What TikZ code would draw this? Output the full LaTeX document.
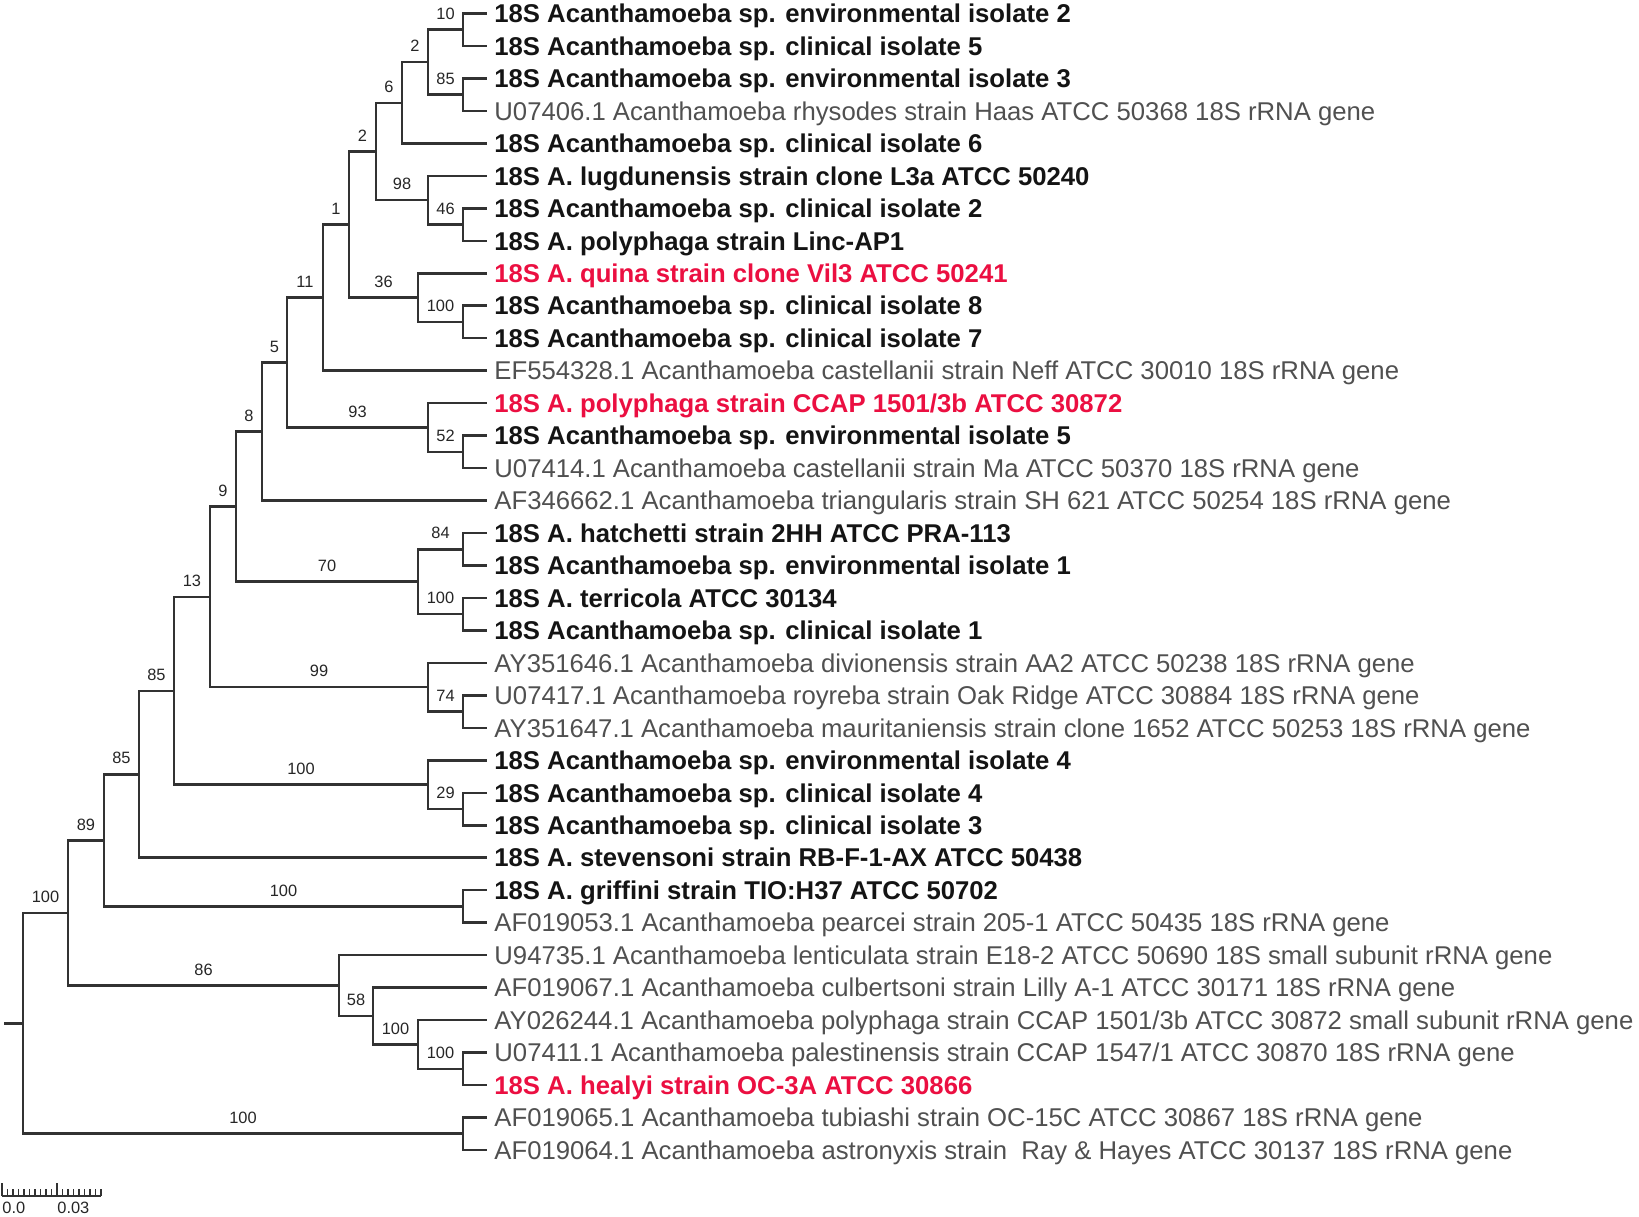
\documentclass[tikz,border=0pt]{standalone}
\usepackage{fontspec}
\setmainfont{Liberation Sans}
\definecolor{treegray}{RGB}{50,50,50}
\definecolor{seqgray}{RGB}{80,80,80}
\definecolor{quinared}{RGB}{235,15,65}
\begin{document}
\begin{tikzpicture}[
    x=0.5pt,
    y=-0.5pt,
    branch/.style={
        draw=treegray,
        line width=1.25pt
    },
    leaf/.style={
        anchor=west,
        inner xsep=3.5pt,
        inner ysep=0pt,
        text height=9.2pt,
        text depth=0pt,
        font=\fontsize{12.85}{15}\selectfont
    },
    isolate/.style={
        leaf,
        font=\fontsize{12.85}{15}\selectfont\bfseries,
        text=black!92
    },
    genbank/.style={
        leaf,
        text=seqgray
    },
    highlight/.style={
        leaf,
        font=\fontsize{12.85}{15}\selectfont\bfseries,
        text=quinared
    },
    boot/.style={
        pos=0.75,
        above=4.5pt,
        inner sep=0pt,
        font=\fontsize{8.2}{9.6}\selectfont,
        text=black!85
    }
]
\useasboundingbox (0,0) rectangle (1639,1216);

% leaves
\node[isolate] (env2) at (487,13.5) {18S Acanthamoeba sp. environmental isolate 2};
\node[isolate] (cli5) at (487,46.0) {18S Acanthamoeba sp. clinical isolate 5};
\node[isolate] (env3) at (487,78.4) {18S Acanthamoeba sp. environmental isolate 3};
\node[genbank] (rhy) at (487,110.9) {U07406.1 Acanthamoeba rhysodes strain Haas ATCC 50368 18S rRNA gene};
\node[isolate] (cli6) at (487,143.4) {18S Acanthamoeba sp. clinical isolate 6};
\node[isolate] (lug) at (487,175.9) {18S A. lugdunensis strain clone L3a ATCC 50240};
\node[isolate] (cli2) at (487,208.3) {18S Acanthamoeba sp. clinical isolate 2};
\node[isolate] (lin) at (487,240.8) {18S A. polyphaga strain Linc-AP1};
\node[highlight] (qui) at (487,273.3) {18S A. quina strain clone Vil3 ATCC 50241};
\node[isolate] (cli8) at (487,305.7) {18S Acanthamoeba sp. clinical isolate 8};
\node[isolate] (cli7) at (487,338.2) {18S Acanthamoeba sp. clinical isolate 7};
\node[genbank] (cas) at (487,370.7) {EF554328.1 Acanthamoeba castellanii strain Neff ATCC 30010 18S rRNA gene};
\node[highlight] (ccap) at (487,403.1) {18S A. polyphaga strain CCAP 1501/3b ATCC 30872};
\node[isolate] (env5) at (487,435.6) {18S Acanthamoeba sp. environmental isolate 5};
\node[genbank] (cma) at (487,468.1) {U07414.1 Acanthamoeba castellanii strain Ma ATCC 50370 18S rRNA gene};
\node[genbank] (tri) at (487,500.6) {AF346662.1 Acanthamoeba triangularis strain SH 621 ATCC 50254 18S rRNA gene};
\node[isolate] (hat) at (487,533.0) {18S A. hatchetti strain 2HH ATCC PRA-113};
\node[isolate] (env1) at (487,565.5) {18S Acanthamoeba sp. environmental isolate 1};
\node[isolate] (ter) at (487,598.0) {18S A. terricola ATCC 30134};
\node[isolate] (cli1) at (487,630.4) {18S Acanthamoeba sp. clinical isolate 1};
\node[genbank] (div) at (487,662.9) {AY351646.1 Acanthamoeba divionensis strain AA2 ATCC 50238 18S rRNA gene};
\node[genbank] (roy) at (487,695.4) {U07417.1 Acanthamoeba royreba strain Oak Ridge ATCC 30884 18S rRNA gene};
\node[genbank] (mau) at (487,727.8) {AY351647.1 Acanthamoeba mauritaniensis strain clone 1652 ATCC 50253 18S rRNA gene};
\node[isolate] (env4) at (487,760.3) {18S Acanthamoeba sp. environmental isolate 4};
\node[isolate] (cli4) at (487,792.8) {18S Acanthamoeba sp. clinical isolate 4};
\node[isolate] (cli3) at (487,825.3) {18S Acanthamoeba sp. clinical isolate 3};
\node[isolate] (ste) at (487,857.7) {18S A. stevensoni strain RB-F-1-AX ATCC 50438};
\node[isolate] (gri) at (487,890.2) {18S A. griffini strain TIO:H37 ATCC 50702};
\node[genbank] (pea) at (487,922.7) {AF019053.1 Acanthamoeba pearcei strain 205-1 ATCC 50435 18S rRNA gene};
\node[genbank] (len) at (487,955.1) {U94735.1 Acanthamoeba lenticulata strain E18-2 ATCC 50690 18S small subunit rRNA gene};
\node[genbank] (cul) at (487,987.6) {AF019067.1 Acanthamoeba culbertsoni strain Lilly A-1 ATCC 30171 18S rRNA gene};
\node[genbank] (pol) at (487,1020.1) {AY026244.1 Acanthamoeba polyphaga strain CCAP 1501/3b ATCC 30872 small subunit rRNA gene};
\node[genbank] (pal) at (487,1052.5) {U07411.1 Acanthamoeba palestinensis strain CCAP 1547/1 ATCC 30870 18S rRNA gene};
\node[highlight] (hea) at (487,1085.0) {18S A. healyi strain OC-3A ATCC 30866};
\node[genbank] (tub) at (487,1117.5) {AF019065.1 Acanthamoeba tubiashi strain OC-15C ATCC 30867 18S rRNA gene};
\node[genbank] (ast) at (487,1150.0) {AF019064.1 Acanthamoeba astronyxis strain\ \ Ray \& Hayes ATCC 30137 18S rRNA gene};

% internal nodes
\coordinate (n1) at (463,29.7);
\coordinate (n2) at (463,94.7);
\coordinate (n3) at (428,62.2);
\coordinate (n4) at (402,102.8);
\coordinate (n5) at (463,224.6);
\coordinate (n6) at (428,200.2);
\coordinate (n7) at (376,151.5);
\coordinate (n8) at (463,322.0);
\coordinate (n9) at (418,297.6);
\coordinate (n10) at (349,224.6);
\coordinate (n11) at (323,297.6);
\coordinate (n12) at (463,451.8);
\coordinate (n13) at (428,427.5);
\coordinate (n14) at (287,362.5);
\coordinate (n15) at (262,431.6);
\coordinate (n16) at (463,549.3);
\coordinate (n17) at (463,614.2);
\coordinate (n18) at (418,581.7);
\coordinate (n19) at (236,506.6);
\coordinate (n20) at (463,711.6);
\coordinate (n21) at (428,687.2);
\coordinate (n22) at (210,596.9);
\coordinate (n23) at (463,809.0);
\coordinate (n24) at (428,784.7);
\coordinate (n25) at (174,690.8);
\coordinate (n26) at (139,774.3);
\coordinate (n27) at (463,906.5);
\coordinate (n28) at (104,840.4);
\coordinate (n29) at (463,1068.8);
\coordinate (n30) at (418,1044.4);
\coordinate (n31) at (373,1016.0);
\coordinate (n32) at (339,985.6);
\coordinate (n33) at (68,913.0);
\coordinate (n34) at (463,1133.7);
\coordinate (root) at (23,1023.4);
\coordinate (stub) at (4,1023.4);

% branches to leaves
\draw[branch] (n1) |- (env2.west);
\draw[branch] (n1) |- (cli5.west);
\draw[branch] (n2) |- (env3.west);
\draw[branch] (n2) |- (rhy.west);
\draw[branch] (n4) |- (cli6.west);
\draw[branch] (n6) |- (lug.west);
\draw[branch] (n5) |- (cli2.west);
\draw[branch] (n5) |- (lin.west);
\draw[branch] (n9) |- (qui.west);
\draw[branch] (n8) |- (cli8.west);
\draw[branch] (n8) |- (cli7.west);
\draw[branch] (n11) |- (cas.west);
\draw[branch] (n13) |- (ccap.west);
\draw[branch] (n12) |- (env5.west);
\draw[branch] (n12) |- (cma.west);
\draw[branch] (n15) |- (tri.west);
\draw[branch] (n16) |- (hat.west);
\draw[branch] (n16) |- (env1.west);
\draw[branch] (n17) |- (ter.west);
\draw[branch] (n17) |- (cli1.west);
\draw[branch] (n21) |- (div.west);
\draw[branch] (n20) |- (roy.west);
\draw[branch] (n20) |- (mau.west);
\draw[branch] (n24) |- (env4.west);
\draw[branch] (n23) |- (cli4.west);
\draw[branch] (n23) |- (cli3.west);
\draw[branch] (n26) |- (ste.west);
\draw[branch] (n27) |- (gri.west);
\draw[branch] (n27) |- (pea.west);
\draw[branch] (n32) |- (len.west);
\draw[branch] (n31) |- (cul.west);
\draw[branch] (n30) |- (pol.west);
\draw[branch] (n29) |- (pal.west);
\draw[branch] (n29) |- (hea.west);
\draw[branch] (n34) |- (tub.west);
\draw[branch] (n34) |- (ast.west);

% inner branches with bootstrap values
\draw[branch] (n3) |- node[boot] {10} (n1);
\draw[branch] (n3) |- node[boot] {85} (n2);
\draw[branch] (n4) |- node[boot] {2} (n3);
\draw[branch] (n7) |- node[boot] {6} (n4);
\draw[branch] (n6) |- node[boot] {46} (n5);
\draw[branch] (n7) |- node[boot] {98} (n6);
\draw[branch] (n10) |- node[boot] {2} (n7);
\draw[branch] (n9) |- node[boot] {100} (n8);
\draw[branch] (n10) |- node[boot] {36} (n9);
\draw[branch] (n11) |- node[boot] {1} (n10);
\draw[branch] (n14) |- node[boot] {11} (n11);
\draw[branch] (n13) |- node[boot] {52} (n12);
\draw[branch] (n14) |- node[boot] {93} (n13);
\draw[branch] (n15) |- node[boot] {5} (n14);
\draw[branch] (n19) |- node[boot] {8} (n15);
\draw[branch] (n18) |- node[boot] {84} (n16);
\draw[branch] (n18) |- node[boot] {100} (n17);
\draw[branch] (n19) |- node[boot] {70} (n18);
\draw[branch] (n22) |- node[boot] {9} (n19);
\draw[branch] (n21) |- node[boot] {74} (n20);
\draw[branch] (n22) |- node[boot] {99} (n21);
\draw[branch] (n25) |- node[boot] {13} (n22);
\draw[branch] (n24) |- node[boot] {29} (n23);
\draw[branch] (n25) |- node[boot] {100} (n24);
\draw[branch] (n26) |- node[boot] {85} (n25);
\draw[branch] (n28) |- node[boot] {85} (n26);
\draw[branch] (n28) |- node[boot] {100} (n27);
\draw[branch] (n33) |- node[boot] {89} (n28);
\draw[branch] (n30) |- node[boot] {100} (n29);
\draw[branch] (n31) |- node[boot] {100} (n30);
\draw[branch] (n32) |- node[boot] {58} (n31);
\draw[branch] (n33) |- node[boot] {86} (n32);
\draw[branch] (root) |- node[boot] {100} (n33);
\draw[branch] (root) |- node[boot] {100} (n34);
\draw[branch] (stub) -- (root);

% scale bar
\coordinate (bar0) at (2,1196);
\coordinate (bar1) at (101,1196);
\draw[branch, line width=0.8pt] (bar0) -- (bar1)
    (bar0) -- ++(0,-13)
    (7.5,1196) -- ++(0,-7) (13,1196) -- ++(0,-7) (18.5,1196) -- ++(0,-7)
    (24,1196) -- ++(0,-7) (29.5,1196) -- ++(0,-7) (35,1196) -- ++(0,-7)
    (40.5,1196) -- ++(0,-7) (46,1196) -- ++(0,-7) (51.5,1196) -- ++(0,-7)
    (57,1196) -- ++(0,-13)
    (62.5,1196) -- ++(0,-7) (68,1196) -- ++(0,-7) (73.5,1196) -- ++(0,-7)
    (79,1196) -- ++(0,-7) (84.5,1196) -- ++(0,-7) (90,1196) -- ++(0,-7)
    (95.5,1196) -- ++(0,-7) (bar1) -- ++(0,-7);
\node[anchor=base west, inner sep=0pt, font=\fontsize{8.2}{9.6}\selectfont, text=black!85] (bar0lab) at (2,1213) {0.0};
\node[anchor=base west, inner sep=0pt, font=\fontsize{8.2}{9.6}\selectfont, text=black!85] (bar1lab) at (57,1213) {0.03};

\end{tikzpicture}
\end{document}
